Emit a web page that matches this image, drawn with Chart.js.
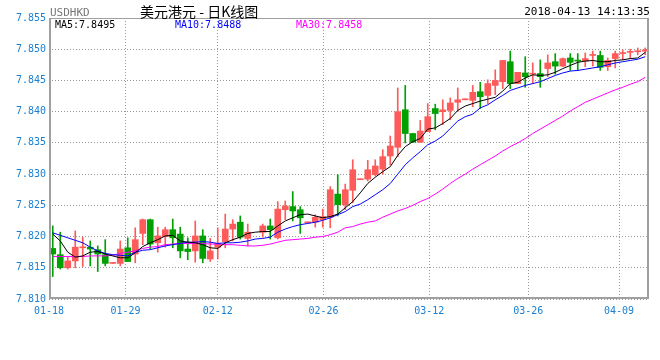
<!DOCTYPE html>
<html>
<head>
<meta charset="utf-8">
<script src="https://cdn.jsdelivr.net/npm/chart.js@4.4.1/dist/chart.umd.min.js"></script>
<style>
  body { margin: 0; background: #fff; }
  #wrap { position: relative; width: 660px; height: 360px; }
  .txt { position: absolute; white-space: pre; font: 10px 'DejaVu Sans Mono', monospace; line-height: 12px; }
</style>
</head>
<body>
<div id="wrap">
  <canvas id="kChart" width="660" height="360"></canvas>
  <div class="txt" style="left:50px; top:7px; color:#777; font-size:11px;">USDHKD</div>
  <div class="txt" style="left:140px; top:3px; color:#000; font:14px 'Noto Sans CJK SC', sans-serif; line-height:16px;">美元港元 - 日K线图</div>
  <div class="txt" style="right:10px; top:6px; color:#000; font-size:11px;">2018-04-13 14:13:35</div>
  <div class="txt" style="left:55px; top:19px; color:#000;">MA5:7.8495</div>
  <div class="txt" style="left:175px; top:19px; color:#0000ff;">MA10:7.8488</div>
  <div class="txt" style="left:296px; top:19px; color:#ff00ff;">MA30:7.8458</div>
</div>
<script>
// ===== USDHKD daily K-line =====

// ---- Data (one entry per candle slot, null = no candle) ----
const opens = [
  7.8181, 7.8171, 7.8150, 7.8161, 7.8182, 7.8183, 7.8179, 7.8171, 7.8157, 7.8157,
  7.8182, 7.8172, 7.8205, 7.8227, 7.8190, 7.8200, 7.8211, 7.8204, 7.8180, 7.8177,
  7.8201, 7.8164, 7.8183, 7.8192, 7.8212, 7.8223, 7.8197, null,   7.8207, 7.8217,
  7.8198, 7.8243, 7.8248, 7.8243, 7.8222, 7.8223, 7.8227, 7.8231, 7.8268, 7.8251,
  7.8274, 7.8291, 7.8292, 7.8299, 7.8308, 7.8329, 7.8343, 7.8403, 7.8365, 7.8351,
  7.8368, 7.8405, 7.8400, 7.8402, 7.8415, 7.8419, 7.8418, 7.8432, 7.8426, 7.8442,
  7.8448, 7.8480, 7.8445, 7.8462, 7.8460, 7.8461, 7.8469, 7.8480, 7.8473, 7.8486,
  7.8482, 7.8481, 7.8490, 7.8490, 7.8472, 7.8485, 7.8493, 7.8495, 7.8496, 7.8497
];
const highs = [
  7.8217, 7.8207, 7.8167, 7.8209, 7.8199, 7.8193, 7.8185, 7.8195, 7.8158, 7.8193,
  7.8198, 7.8214, 7.8228, 7.8228, 7.8215, 7.8215, 7.8228, 7.8215, 7.8198, 7.8225,
  7.8211, 7.8197, 7.8214, 7.8236, 7.8227, 7.8233, 7.8220, null,   7.8220, 7.8228,
  7.8256, 7.8257, 7.8272, 7.8248, 7.8223, 7.8235, 7.8244, 7.8280, 7.8299, 7.8284,
  7.8323, 7.8292, 7.8322, 7.8323, 7.8339, 7.8361, 7.8438, 7.8442, 7.8365, 7.8386,
  7.8413, 7.8412, 7.8419, 7.8422, 7.8438, 7.8420, 7.8442, 7.8447, 7.8451, 7.8467,
  7.8482, 7.8497, 7.8463, 7.8488, 7.8478, 7.8483, 7.8491, 7.8493, 7.8486, 7.8493,
  7.8493, 7.8494, 7.8497, 7.8497, 7.8486, 7.8497, 7.8499, 7.8500, 7.8502, 7.8502
];
const lows = [
  7.8136, 7.8148, 7.8148, 7.8150, 7.8152, 7.8153, 7.8144, 7.8153, 7.8157, 7.8153,
  7.8160, 7.8158, 7.8187, 7.8180, 7.8175, 7.8183, 7.8182, 7.8166, 7.8163, 7.8159,
  7.8158, 7.8160, 7.8164, 7.8182, 7.8193, 7.8196, 7.8185, null,   7.8199, 7.8196,
  7.8196, 7.8227, 7.8225, 7.8205, 7.8222, 7.8215, 7.8215, 7.8214, 7.8233, 7.8243,
  7.8254, 7.8291, 7.8289, 7.8297, 7.8300, 7.8315, 7.8328, 7.8350, 7.8351, 7.8351,
  7.8368, 7.8371, 7.8379, 7.8387, 7.8400, 7.8419, 7.8408, 7.8405, 7.8413, 7.8427,
  7.8437, 7.8437, 7.8445, 7.8439, 7.8445, 7.8439, 7.8456, 7.8460, 7.8472, 7.8466,
  7.8466, 7.8472, 7.8473, 7.8466, 7.8466, 7.8470, 7.8483, 7.8485, 7.8491, 7.8491
];
const closes = [
  7.8172, 7.8150, 7.8161, 7.8183, 7.8183, 7.8180, 7.8172, 7.8157, 7.8158, 7.8180,
  7.8160, 7.8195, 7.8227, 7.8188, 7.8201, 7.8211, 7.8198, 7.8177, 7.8176, 7.8201,
  7.8165, 7.8177, 7.8189, 7.8212, 7.8220, 7.8199, 7.8207, null,   7.8217, 7.8211,
  7.8244, 7.8249, 7.8241, 7.8230, 7.8223, 7.8231, 7.8232, 7.8275, 7.8251, 7.8275,
  7.8307, 7.8292, 7.8307, 7.8313, 7.8328, 7.8345, 7.8400, 7.8365, 7.8351, 7.8369,
  7.8392, 7.8397, 7.8403, 7.8414, 7.8419, 7.8420, 7.8431, 7.8424, 7.8445, 7.8450,
  7.8482, 7.8445, 7.8463, 7.8456, 7.8461, 7.8456, 7.8478, 7.8473, 7.8485, 7.8479,
  7.8481, 7.8485, 7.8491, 7.8471, 7.8482, 7.8493, 7.8494, 7.8496, 7.8497, 7.8499
];

// moving averages
const ma5 = [
  7.8204, 7.8193, 7.8175, 7.8167, 7.8169, 7.8175, 7.8176, 7.8172, 7.8169, 7.8166,
  7.8166, 7.8174, 7.8184, 7.8190, 7.8195, 7.8201, 7.8202, 7.8193, 7.8191, 7.8190,
  7.8187, 7.8182, 7.8181, 7.8190, 7.8195, 7.8199, 7.8205, 7.8207, 7.8208, 7.8208,
  7.8217, 7.8225, 7.8230, 7.8235, 7.8236, 7.8233, 7.8230, 7.8232, 7.8236, 7.8246,
  7.8256, 7.8270, 7.8285, 7.8295, 7.8304, 7.8312, 7.8330, 7.8344, 7.8352, 7.8357,
  7.8372, 7.8374, 7.8381, 7.8389, 7.8402, 7.8409, 7.8413, 7.8417, 7.8420, 7.8423,
  7.8433, 7.8445, 7.8447, 7.8454, 7.8459, 7.8458, 7.8459, 7.8463, 7.8469, 7.8474,
  7.8479, 7.8481, 7.8482, 7.8480, 7.8480, 7.8482, 7.8483, 7.8485, 7.8486, 7.8495
];
const ma10 = [
  7.8206, 7.8202, 7.8198, 7.8194, 7.8190, 7.8183, 7.8177, 7.8173, 7.8171, 7.8170,
  7.8169, 7.8175, 7.8178, 7.8179, 7.8182, 7.8185, 7.8187, 7.8189, 7.8191, 7.8191,
  7.8192, 7.8191, 7.8189, 7.8190, 7.8190, 7.8191, 7.8193, 7.8196, 7.8197, 7.8199,
  7.8207, 7.8212, 7.8216, 7.8219, 7.8221, 7.8223, 7.8226, 7.8230, 7.8235, 7.8240,
  7.8248, 7.8252, 7.8259, 7.8267, 7.8275, 7.8285, 7.8300, 7.8315, 7.8326, 7.8336,
  7.8347, 7.8353, 7.8361, 7.8373, 7.8385, 7.8392, 7.8396, 7.8406, 7.8411, 7.8419,
  7.8426, 7.8434, 7.8438, 7.8442, 7.8445, 7.8448, 7.8453, 7.8458, 7.8462, 7.8465,
  7.8466, 7.8468, 7.8470, 7.8472, 7.8475, 7.8478, 7.8480, 7.8482, 7.8484, 7.8488
];
const ma30 = [
  7.8168, 7.8168, 7.8168, 7.8168, 7.8168, 7.8169, 7.8169, 7.8169, 7.8170, 7.8173,
  7.8175, 7.8177, 7.8181, 7.8183, 7.8184, 7.8187, 7.8188, 7.8189, 7.8189, 7.8189,
  7.8189, 7.8188, 7.8188, 7.8187, 7.8187, 7.8186, 7.8185, 7.8185, 7.8186, 7.8188,
  7.8191, 7.8194, 7.8195, 7.8196, 7.8197, 7.8199, 7.8200, 7.8203, 7.8207, 7.8214,
  7.8216, 7.8220, 7.8223, 7.8225, 7.8231, 7.8236, 7.8241, 7.8245, 7.8250, 7.8256,
  7.8261, 7.8268, 7.8276, 7.8285, 7.8293, 7.8300, 7.8308, 7.8315, 7.8322, 7.8329,
  7.8337, 7.8344, 7.8350, 7.8357, 7.8365, 7.8372, 7.8379, 7.8386, 7.8393, 7.8401,
  7.8408, 7.8415, 7.8420, 7.8425, 7.8430, 7.8435, 7.8439, 7.8444, 7.8448, 7.8455
];

// date labels and the candle slot they sit on
const tickLabels = ['01-18', '01-29', '02-12', '02-26', '03-12', '03-26', '04-09'];
const tickPos    = [-0.5, 9.7, 22.0, 36.1, 50.2, 63.4, 75.5];

const yTicks = { min: 7.810, max: 7.855, step: 0.005 };

// ---- Colours ----
const UP   = '#ff5b5b';
const DOWN = '#00a000';

// ---- Build datasets ----
const bodies = [], wicks = [], candleColors = [];
opens.forEach((o, i) => {
  if (o === null) return;
  bodies.push({ x: i, y: [o, closes[i]] });
  wicks.push({ x: i, y: [lows[i], highs[i]] });
  candleColors.push(closes[i] >= o ? UP : DOWN);
});
const toXY = arr => arr.map((v, i) => ({ x: i, y: v }));

const lineDs = (label, data, color) => ({
  type: 'line',
  label,
  data: toXY(data),
  borderColor: color,
  borderWidth: 1,
  pointRadius: 0,
  tension: 0,
  fill: false,
  order: 0,
});

// frame around plot area (solid grey)
const framePlugin = {
  id: 'frame',
  afterDraw(chart) {
    const { ctx, chartArea: a } = chart;
    ctx.save();
    ctx.strokeStyle = '#a0a0a0';
    ctx.lineWidth = 1;
    ctx.beginPath();
    ctx.moveTo(a.left, a.top + 0.5);
    ctx.lineTo(a.right, a.top + 0.5);
    ctx.stroke();
    ctx.lineWidth = 2;
    ctx.beginPath();
    ctx.moveTo(a.left + 1, a.top);
    ctx.lineTo(a.left + 1, a.bottom);
    ctx.moveTo(a.left, a.bottom - 1);
    ctx.lineTo(a.right, a.bottom - 1);
    ctx.moveTo(a.right - 1, a.top);
    ctx.lineTo(a.right - 1, a.bottom);
    ctx.stroke();
    ctx.restore();
  }
};

const tickFont = { family: 'DejaVu Sans Mono', size: 10 };
const tickColor = '#1a7fd0';

new Chart(document.getElementById('kChart'), {
  type: 'bar',
  data: {
    datasets: [
      lineDs('MA5', ma5, '#000000'),
      lineDs('MA10', ma10, '#0000ff'),
      lineDs('MA30', ma30, '#ff00ff'),
      {
        label: 'body',
        data: bodies,
        backgroundColor: candleColors,
        borderWidth: 0,
        barThickness: 6,
        minBarLength: 1,
        grouped: false,
        order: 1,
      },
      {
        label: 'wick',
        data: wicks,
        backgroundColor: candleColors,
        borderWidth: 0,
        barThickness: 1,
        minBarLength: 1,
        grouped: false,
        order: 2,
      },
    ],
  },
  options: {
    responsive: false,
    devicePixelRatio: 1,
    animation: false,
    layout: { padding: { top: 18, left: 0, right: 11, bottom: 31 } },
    plugins: {
      legend: { display: false },
      tooltip: { enabled: false },
    },
    scales: {
      x: {
        type: 'linear',
        min: -0.5,
        max: opens.length - 0.5,
        offset: false,
        afterBuildTicks: scale => { scale.ticks = tickPos.map(v => ({ value: v })); },
        afterFit: scale => { scale.height = 30; },
        ticks: {
          autoSkip: false,
          maxRotation: 0,
          padding: 6,
          color: tickColor,
          font: tickFont,
          callback: (v, i) => tickLabels[i],
        },
        grid: { color: '#999999', lineWidth: 1, drawTicks: false, offset: false },
        border: { display: false, dash: [1, 2] },
      },
      y: {
        min: yTicks.min,
        max: yTicks.max,
        afterFit: scale => { scale.width = 49; },
        ticks: {
          stepSize: yTicks.step,
          padding: 3,
          color: tickColor,
          font: tickFont,
          callback: v => v.toFixed(3),
        },
        grid: { color: '#999999', lineWidth: 1, drawTicks: false },
        border: { display: false, dash: [1, 2] },
      },
    },
  },
  plugins: [framePlugin],
});
</script>
</body>
</html>
